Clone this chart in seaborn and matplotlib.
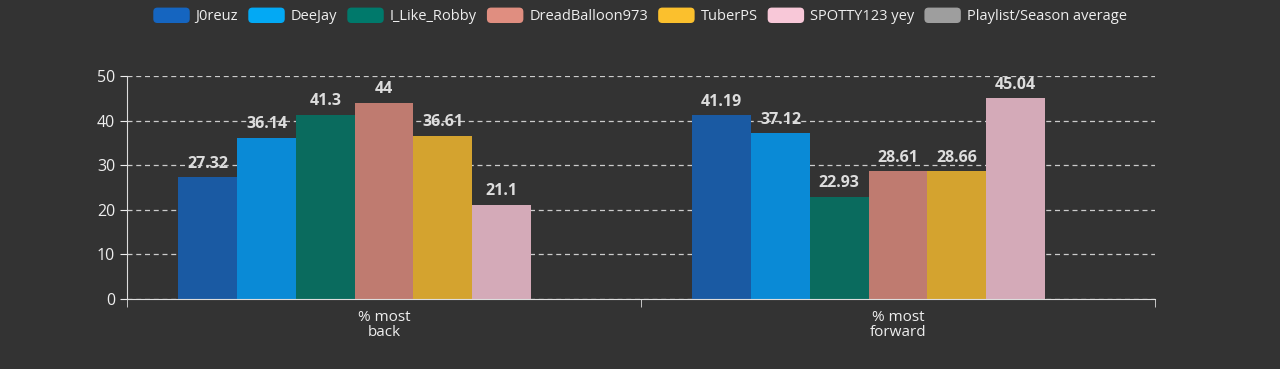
import seaborn as sns
import matplotlib.pyplot as plt
import pandas as pd
from matplotlib.patches import FancyBboxPatch
from matplotlib.legend_handler import HandlerPatch

# datos
categorias = ["% most\nback", "% most\nforward"]
jugadores = ["J0reuz", "DeeJay", "I_Like_Robby", "DreadBalloon973", "TuberPS", "SPOTTY123 yey",
             "Playlist/Season average"]
valores_back = [27.32, 36.14, 41.3, 44, 36.61, 21.1, None]
valores_forward = [41.19, 37.12, 22.93, 28.61, 28.66, 45.04, None]

colores_barras = ["#1a5aa3", "#0a8ad6", "#0a6b5e", "#bf7b70", "#d4a32f", "#d4aab8", "#8a8a8a"]
colores_leyenda = ["#1565c0", "#03a9f4", "#00796b", "#e08e80", "#fbc02d", "#f8c8d8", "#9e9e9e"]

filas = []
for j, vb, vf in zip(jugadores, valores_back, valores_forward):
    filas.append({"cat": categorias[0], "jugador": j, "valor": vb})
    filas.append({"cat": categorias[1], "jugador": j, "valor": vf})
datos = pd.DataFrame(filas)

fondo = "#333333"
sns.set_style("dark")
plt.rcParams["font.family"] = ["Open Sans", "DejaVu Sans"]

fig = plt.figure(figsize=(12.8, 3.69), dpi=100, facecolor=fondo)
ax = fig.add_axes([127 / 1280, 1 - 299 / 369, 1028 / 1280, 223 / 369])
ax.set_facecolor(fondo)

sns.barplot(data=datos, x="cat", y="valor", hue="jugador", hue_order=jugadores,
            order=categorias, palette=colores_barras, width=0.8, ax=ax,
            legend=False, edgecolor="none", saturation=1)

for cont in ax.containers:
    vals = [v for v in cont.datavalues]
    ax.bar_label(cont, labels=[f"{v:g}" if v == v else "" for v in vals], padding=4,
                 color="#dddddd", fontsize=11.5, fontweight="bold")

ax.set_ylim(0, 50)
ax.set_xlim(-0.5, 1.5)
ax.set_yticks([0, 10, 20, 30, 40, 50])
ax.yaxis.grid(True, linestyle=(0, (4, 3)), color="#cccccc", linewidth=0.9)
ax.xaxis.grid(False)
ax.set_axisbelow(True)
ax.set_xlabel("")
ax.set_ylabel("")

for lado in ["top", "right"]:
    ax.spines[lado].set_visible(False)
ax.spines["left"].set_color("#dddddd")
ax.spines["bottom"].set_color("#dddddd")

ax.tick_params(axis="y", colors="#eeeeee", labelsize=11.5, length=5, left=True)
ax.tick_params(axis="x", colors="#eeeeee", labelsize=11, length=0, pad=8)
ax.set_xticks([-0.5, 0.5, 1.5], minor=True)
ax.tick_params(axis="x", which="minor", length=6, color="#dddddd", bottom=True)
for t in ax.get_xticklabels():
    t.set_linespacing(0.95)


class CajaRedonda(HandlerPatch):
    def create_artists(self, legend, orig, xd, yd, w, h, fs, trans):
        p = FancyBboxPatch((-xd, -yd), w, h, boxstyle="round,pad=0,rounding_size=3",
                           facecolor=orig.get_facecolor(), edgecolor="none", transform=trans)
        return [p]


handles = [FancyBboxPatch((0, 0), 1, 1, facecolor=c, edgecolor="none") for c in colores_leyenda]
fig.legend(handles, jugadores, loc="upper center", bbox_to_anchor=(0.5, 1.015),
           ncol=7, frameon=False, fontsize=10.5, labelcolor="#eeeeee",
           handlelength=2.5, handleheight=1.25, columnspacing=0.7, handletextpad=0.4,
           handler_map={FancyBboxPatch: CajaRedonda()})

fig.savefig("out.png", dpi=100, facecolor=fondo)
